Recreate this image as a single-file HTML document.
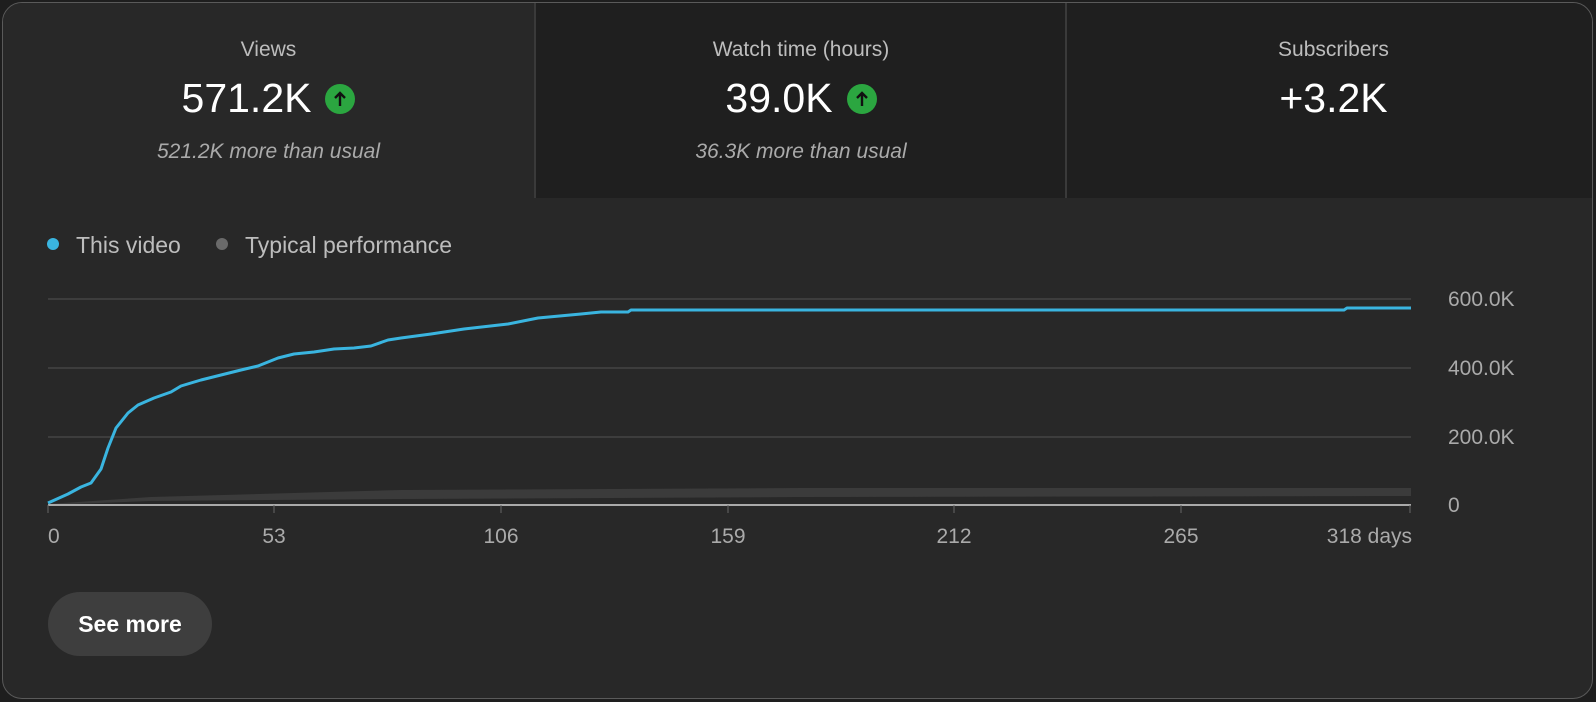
<!DOCTYPE html>
<html><head><meta charset="utf-8"><style>
html,body{margin:0;padding:0;background:#1e1e1e;}
body{width:1596px;height:702px;position:relative;overflow:hidden;font-family:"Liberation Sans",sans-serif;}
.card{position:absolute;left:2px;top:2px;width:1589px;height:695px;border:1.5px solid #5a5a5a;border-radius:20px;background:#282828;overflow:hidden;}
.tab{position:absolute;top:0;height:195px;text-align:center;color:#fff;}
.t1{left:0;width:531px;background:#282828;}
.t2{left:531px;width:530px;background:#1f1f1f;border-left:2px solid #3a3a3a;}
.t3{left:1062px;width:533px;background:#1f1f1f;border-left:2px solid #3a3a3a;}
.lab{position:absolute;left:0;right:0;top:35px;font-size:21px;color:#bdbdbd;}
.num{position:absolute;left:0;right:0;top:72px;font-size:41px;color:#fff;}
.sub{position:absolute;left:0;right:0;top:137px;font-size:21px;font-style:italic;color:#aaa;}
.up{display:inline-block;width:30px;height:30px;border-radius:50%;background:#2ba640;vertical-align:-2px;margin-left:14px;position:relative;}
.up svg{position:absolute;left:0;top:0;}
.leg{position:absolute;top:229px;font-size:23px;color:#bdbdbd;}
.dot{display:inline-block;width:12px;height:12px;border-radius:50%;vertical-align:3px;margin-right:17px;}
.btn{position:absolute;left:45px;top:589px;width:164px;height:64px;border-radius:32px;background:#3e3e3e;color:#fff;font-size:23px;font-weight:bold;text-align:center;line-height:64px;}
svg.ch{position:absolute;left:-2px;top:-2px;}
</style></head><body>
<div class="card">
<div class="tab t1"><div class="lab">Views</div><div class="num">571.2K<span class="up"><svg width="30" height="30"><path d="M15 22V9M10 14l5-5 5 5" stroke="#111" stroke-width="2.4" fill="none"/></svg></span></div><div class="sub">521.2K more than usual</div></div>
<div class="tab t2"><div class="lab">Watch time (hours)</div><div class="num">39.0K<span class="up"><svg width="30" height="30"><path d="M15 22V9M10 14l5-5 5 5" stroke="#111" stroke-width="2.4" fill="none"/></svg></span></div><div class="sub">36.3K more than usual</div></div>
<div class="tab t3"><div class="lab">Subscribers</div><div class="num">+3.2K</div></div>
<div class="leg" style="left:44px"><span class="dot" style="background:#3ab5e0"></span>This video</div>
<div class="leg" style="left:213px"><span class="dot" style="background:#6a6a6a"></span>Typical performance</div>
<div class="btn">See more</div>
<svg class="ch" width="1596" height="702">
<g stroke="#3d3d3d" stroke-width="2"><line x1="47" y1="298" x2="1410" y2="298"/><line x1="47" y1="367" x2="1410" y2="367"/><line x1="47" y1="436" x2="1410" y2="436"/></g>
<path d="M47 503 L150 496 L400 489 L800 487 L1410 487 L1410 495 L800 496 L400 498 L150 500 L47 504Z" fill="#3b3b3b"/>
<line x1="47" y1="504" x2="1410" y2="504" stroke="#aaa" stroke-width="2"/>
<g stroke="#666" stroke-width="1"><line x1="47" y1="504" x2="47" y2="512"/><line x1="273" y1="504" x2="273" y2="512"/><line x1="500" y1="504" x2="500" y2="512"/><line x1="727" y1="504" x2="727" y2="512"/><line x1="953" y1="504" x2="953" y2="512"/><line x1="1180" y1="504" x2="1180" y2="512"/><line x1="1409" y1="504" x2="1409" y2="512"/></g>
<polyline fill="none" stroke="#3ab5e0" stroke-width="3" stroke-linejoin="round" points="47,502 67,493 80,486 90,482 100,468 107,447 115,427 127,412 137,404 153,397 170,391 180,385 200,379 220,374 240,369 257,365 277,357 293,353 313,351 333,348 353,347 370,345 387,339 400,337 430,333 463,328 507,323 527,319 537,317 580,313 600,311 627,311 630,309 1343,309 1346,307 1410,307"/>
<g fill="#aaa" font-family="Liberation Sans, sans-serif" font-size="21"><text x="1447" y="305">600.0K</text><text x="1447" y="374">400.0K</text><text x="1447" y="443">200.0K</text><text x="1447" y="511">0</text>
<text x="47" y="542" text-anchor="start">0</text><text x="273" y="542" text-anchor="middle">53</text><text x="500" y="542" text-anchor="middle">106</text><text x="727" y="542" text-anchor="middle">159</text><text x="953" y="542" text-anchor="middle">212</text><text x="1180" y="542" text-anchor="middle">265</text><text x="1411" y="542" text-anchor="end">318 days</text></g>
</svg>
</div>
</body></html>
